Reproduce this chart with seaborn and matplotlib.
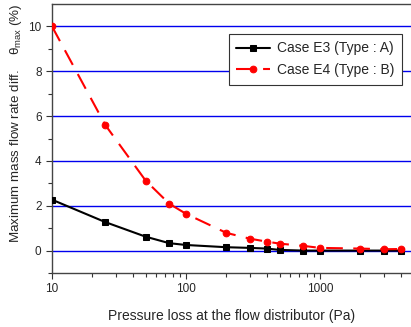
import numpy as np
import pandas as pd
import matplotlib
matplotlib.use("Agg")
import matplotlib.pyplot as plt
import seaborn as sns
from matplotlib.ticker import FixedLocator, NullFormatter, LogLocator

pressure = [10, 25, 50, 75, 100, 200, 300, 400, 500, 750, 1000, 2000, 3000, 4000]
case_e3 = [2.27, 1.27, 0.62, 0.33, 0.25, 0.15, 0.12, 0.09, 0.03, 0.0, 0.0, 0.0, 0.0, 0.0]
case_e4 = [10.0, 5.6, 3.12, 2.09, 1.64, 0.79, 0.53, 0.40, 0.31, 0.21, 0.12, 0.09, 0.06, 0.07]
labels = ["Case E3 (Type : A)", "Case E4 (Type : B)"]

sns.set_style("ticks")
plt.rcParams['font.family'] = ['Liberation Sans', 'DejaVu Sans']
plt.rcParams['mathtext.fontset'] = 'custom'
plt.rcParams['mathtext.rm'] = 'Liberation Sans'
plt.rcParams['mathtext.it'] = 'Liberation Sans:italic'

df = pd.DataFrame({
    "p": pressure * 2,
    "v": case_e3 + case_e4,
    "case": [labels[0]] * len(pressure) + [labels[1]] * len(pressure),
})

fig = plt.figure(figsize=(4.11, 3.27), dpi=100)
ax = fig.add_axes([52/411, 1 - 273/327, (411-52)/411, (273-4)/327])

for val in [0, 2, 4, 6, 8, 10]:
    ax.axhline(val, color='#0000ee', lw=1.0, zorder=1)

sub = df[df.case == labels[0]]
sns.lineplot(data=sub, x="p", y="v", ax=ax, color='black', marker='s', markersize=4.5,
             markeredgecolor='black', lw=1.5, label=labels[0], zorder=3)
sub = df[df.case == labels[1]]
sns.lineplot(data=sub, x="p", y="v", ax=ax, color='red', marker='o', markersize=4.8,
             markeredgecolor='red', lw=1.5, label=labels[1], zorder=4, dashes=False,
             linestyle=(0, (8, 5)))

ax.set_xscale('log')
ax.set_xlim(10, 4775)
ax.set_ylim(-1, 11)
ax.set_yticks([0, 2, 4, 6, 8, 10])
ax.yaxis.set_minor_locator(FixedLocator([-1, 1, 3, 5, 7, 9]))
ax.xaxis.set_major_locator(FixedLocator([10, 100, 1000]))
ax.set_xticklabels(["10", "100", "1000"])
ax.xaxis.set_minor_locator(LogLocator(base=10, subs=np.arange(2, 10)))
ax.xaxis.set_minor_formatter(NullFormatter())
ax.tick_params(axis='both', which='major', labelsize=8.5, length=4, width=0.8, color='#333333', direction='out')
ax.tick_params(axis='both', which='minor', length=3, width=0.8, color='#333333', direction='out')

for s in ['left', 'bottom', 'top']:
    ax.spines[s].set_color('#444444')
    ax.spines[s].set_linewidth(1.0)
ax.spines['right'].set_visible(False)

ax.set_xlabel("Pressure loss at the flow distributor (Pa)", fontsize=10, labelpad=10)
ax.set_ylabel("Maximum mass flow rate diff.    θ$_{\\rm max}$ (%)", fontsize=9.6)
ax.yaxis.set_label_coords(-0.078, 0.555)

leg = ax.legend(loc='upper right', bbox_to_anchor=(0.993, 0.915), fontsize=10, frameon=True,
                fancybox=False, edgecolor='#333333', framealpha=1, handlelength=2.4,
                borderpad=0.55, labelspacing=0.55, handletextpad=0.5)
leg.get_frame().set_linewidth(0.8)

fig.savefig("out.png", dpi=100)
